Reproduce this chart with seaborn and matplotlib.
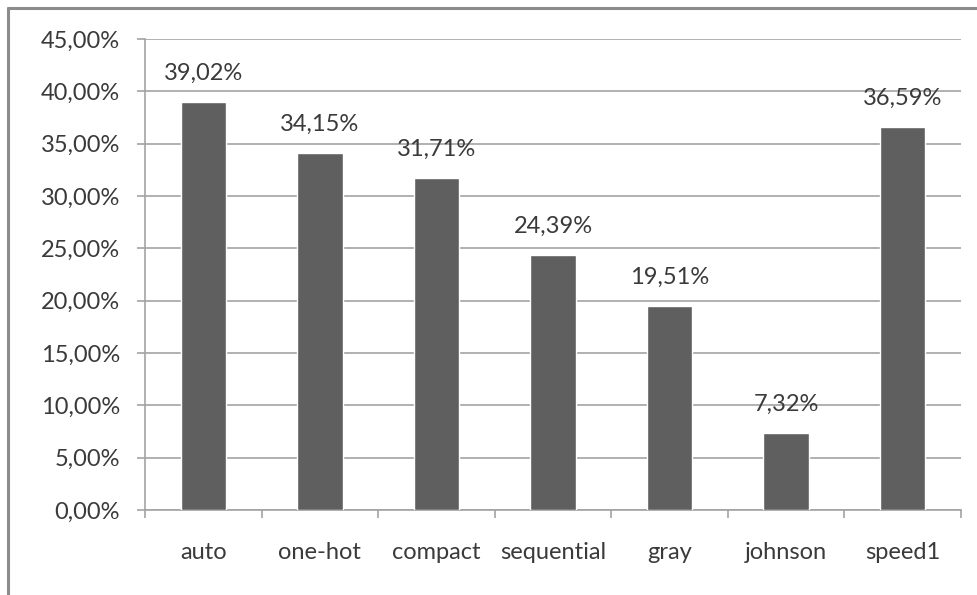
import matplotlib
matplotlib.use("Agg")
import matplotlib.pyplot as plt
from matplotlib.lines import Line2D
from matplotlib.ticker import FuncFormatter, FixedLocator
import seaborn as sns
import pandas as pd

categories = ["auto", "one-hot", "compact", "sequential", "gray", "johnson", "speed1"]
values = [39.02, 34.15, 31.71, 24.39, 19.51, 7.32, 36.59]
y_ticks = [0, 5, 10, 15, 20, 25, 30, 35, 40, 45]

sns.set_theme(style="white")
plt.rcParams["font.family"] = ["Lato", "DejaVu Sans"]

bar_color = "#5f5f5f"
grid_color = "#a3a3a3"
text_color = "#3a3a3a"
font_size = 17

df = pd.DataFrame({"encoding": categories, "share": values})

fig = plt.figure(figsize=(9.77, 5.95), dpi=100)
fig.patch.set_facecolor("white")
ax = fig.add_axes([145 / 977, 1 - 510 / 595, (961 - 145) / 977, (510 - 39) / 595])

sns.barplot(data=df, x="encoding", y="share", color=bar_color, width=0.39,
            saturation=1, ax=ax, zorder=3)

ax.set_ylim(0, 45)
ax.set_xlim(-0.5, len(categories) - 0.5)
ax.set_yticks(y_ticks)
ax.yaxis.set_major_formatter(FuncFormatter(lambda v, _: f"{v:.2f}".replace(".", ",") + "%"))
ax.yaxis.grid(True, color=grid_color, linewidth=1.2, zorder=0)
ax.xaxis.grid(False)
ax.set_xlabel("")
ax.set_ylabel("")

for side in ("top", "right"):
    ax.spines[side].set_visible(False)
for side in ("left", "bottom"):
    ax.spines[side].set_color(grid_color)
    ax.spines[side].set_linewidth(1.2)

ax.tick_params(axis="y", which="major", left=True, length=6, width=1.2,
               color=grid_color, pad=12, labelsize=font_size, labelcolor=text_color)
ax.tick_params(axis="x", which="major", bottom=False, length=0, pad=23,
               labelsize=font_size, labelcolor=text_color)
ax.xaxis.set_minor_locator(FixedLocator([i - 0.5 for i in range(len(categories) + 1)]))
ax.tick_params(axis="x", which="minor", bottom=True, length=6, width=1.2, color=grid_color)

labels = [f"{v:.2f}".replace(".", ",") + "%" for v in values]
ax.bar_label(ax.containers[0], labels=labels, padding=13, fontsize=font_size, color=text_color)

# outer frame along the top and left edges
frame_color = "#8c8c8c"
fig.add_artist(Line2D([8 / 977, 1], [1 - 8 / 595, 1 - 8 / 595], transform=fig.transFigure,
                      color=frame_color, linewidth=2.2))
fig.add_artist(Line2D([8 / 977, 8 / 977], [0, 1 - 8 / 595], transform=fig.transFigure,
                      color=frame_color, linewidth=2.2))

fig.savefig("out.png", dpi=100)
